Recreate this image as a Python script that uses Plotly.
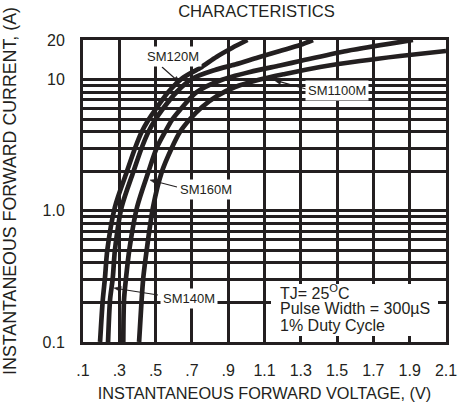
import math
import plotly.graph_objects as go

# ---------------- data ----------------
sm120m_current = [0.1, 0.209, 0.307, 0.502, 1.068, 1.974, 3.008, 3.982, 4.915, 5.859, 8.035, 10.21, 12.24, 14.93, 17.39, 20]
sm120m_voltage = [0.194, 0.209, 0.221, 0.234, 0.276, 0.341, 0.387, 0.423, 0.460, 0.497, 0.570, 0.646, 0.745, 0.837, 0.921, 1.006]

sm140m_current = [0.1, 0.209, 0.307, 0.502, 1.068, 1.974, 3.008, 3.982, 4.915, 5.859, 8.035, 10.21, 11.82, 13.02, 14.72, 16.50, 18.32, 20]
sm140m_voltage = [0.238, 0.249, 0.264, 0.276, 0.313, 0.377, 0.423, 0.460, 0.497, 0.535, 0.616, 0.706, 0.827, 0.938, 1.064, 1.185, 1.296, 1.367]

sm160m_current = [0.1, 0.209, 0.307, 0.502, 1.068, 1.974, 3.008, 3.982, 4.915, 5.859, 8.035, 9.829, 11.41, 12.79, 13.84, 16.50, 20]
sm160m_voltage = [0.322, 0.326, 0.337, 0.355, 0.398, 0.460, 0.506, 0.552, 0.590, 0.634, 0.728, 0.855, 1.020, 1.185, 1.296, 1.553, 1.918]

sm1100m_current = [0.1, 0.209, 0.307, 0.502, 1.068, 1.974, 3.008, 3.982, 5.004, 6.173, 7.490, 8.770, 9.915, 11.02, 12.46, 13.84, 15.11, 16.50]
sm1100m_voltage = [0.409, 0.423, 0.432, 0.451, 0.486, 0.534, 0.589, 0.634, 0.690, 0.756, 0.838, 0.938, 1.064, 1.213, 1.406, 1.626, 1.847, 2.1]

x_tick_values = [0.1, 0.3, 0.5, 0.7, 0.9, 1.1, 1.3, 1.5, 1.7, 1.9, 2.1]
x_tick_labels = [".1", ".3", ".5", ".7", ".9", "1.1", "1.3", "1.5", "1.7", "1.9", "2.1"]

y_tick_values = [0.1, 1, 10, 20]
y_tick_labels = ["0.1", "1.0", "10", "20"]
y_minor_grid = [0.2, 0.3, 0.4, 0.5, 0.6, 0.7, 0.8, 0.9, 2, 3, 4, 5, 6, 7, 8, 9]

series_names = ["SM120M", "SM140M", "SM160M", "SM1100M"]

# ---------------- figure ----------------
INK = "#231f20"
FONT = "Liberation Sans, Arial, Helvetica, sans-serif"

W, H = 460, 404
ML, MR, MT, MB = 83, 14, 40, 62
PW, PH = W - ML - MR, H - MT - MB


def px(xp):
    return (xp - ML) / PW


def py(yp):
    return (MT + PH - yp) / PH


fig = go.Figure()
for name, volts, amps in [
    (series_names[0], sm120m_voltage, sm120m_current),
    (series_names[1], sm140m_voltage, sm140m_current),
    (series_names[2], sm160m_voltage, sm160m_current),
    (series_names[3], sm1100m_voltage, sm1100m_current),
]:
    fig.add_trace(go.Scatter(
        x=volts, y=amps, mode="lines", name=name, showlegend=False,
        line=dict(color=INK, width=4.7, shape="spline", smoothing=0.8),
        hoverinfo="skip",
    ))

annotations = []

# white box behind the conditions text
shapes = [dict(type="rect", xref="paper", yref="paper",
               x0=px(271), x1=px(438), y0=py(336), y1=py(284),
               fillcolor="white", line=dict(width=0), layer="above")]

# series labels with white backgrounds
label_pos = {
    "SM120M": (173.3, 56.7),
    "SM1100M": (337.0, 90.7),
    "SM160M": (205.5, 189.0),
    "SM140M": (189.0, 298.0),
}
for name, (lx, ly) in label_pos.items():
    annotations.append(dict(
        text=name, x=px(lx), y=py(ly), xref="paper", yref="paper",
        showarrow=False, xanchor="center", yanchor="middle",
        bgcolor="white", borderpad=2,
        font=dict(family=FONT, size=13, color=INK),
    ))

# leader arrows (tail -> tip, in pixels), drawn as line + filled head
arrows = [
    ((162, 67), (180, 83)),
    ((306, 89), (274, 80)),
    ((177, 187), (150, 180)),
    ((158, 295), (114, 288)),
]
HEAD_LEN, HEAD_HALF = 7.0, 2.6
for (tx, ty), (hx, hy) in arrows:
    d = math.hypot(hx - tx, hy - ty)
    ux, uy = (hx - tx) / d, (hy - ty) / d
    bx, by = hx - ux * HEAD_LEN, hy - uy * HEAD_LEN
    nx, ny = -uy, ux
    shapes.append(dict(type="line", xref="paper", yref="paper",
                       x0=px(tx), y0=py(ty), x1=px(bx + ux), y1=py(by + uy),
                       line=dict(color=INK, width=1.1), layer="above"))
    path = "M {:.5f} {:.5f} L {:.5f} {:.5f} L {:.5f} {:.5f} Z".format(
        px(hx), py(hy),
        px(bx + nx * HEAD_HALF), py(by + ny * HEAD_HALF),
        px(bx - nx * HEAD_HALF), py(by - ny * HEAD_HALF))
    shapes.append(dict(type="path", xref="paper", yref="paper", path=path,
                       fillcolor=INK, line=dict(color=INK, width=0.5), layer="above"))

# conditions text
for txt, ly in [("TJ= 25<sup>O</sup>C", 291.5),
                ("Pulse Width = 300µS", 308.5),
                ("1% Duty Cycle", 325.0)]:
    annotations.append(dict(
        text=txt, x=px(278), y=py(ly), xref="paper", yref="paper",
        showarrow=False, xanchor="left", yanchor="middle",
        font=dict(family=FONT, size=16, color=INK),
    ))

grid_style = dict(showgrid=True, gridcolor=INK, gridwidth=2.7)

fig.update_layout(
    width=W, height=H,
    margin=dict(l=ML, r=MR, t=MT, b=MB, autoexpand=False),
    paper_bgcolor="white", plot_bgcolor="white",
    font=dict(family=FONT, size=16, color=INK),
    title=dict(text="CHARACTERISTICS", x=256.5 / W, xanchor="center",
               y=1 - 11 / H, yanchor="middle",
               font=dict(family=FONT, size=16.6, color=INK)),
    annotations=annotations, shapes=shapes,
    xaxis=dict(
        range=[0.1, 2.1], tickmode="array", tickvals=x_tick_values, ticktext=x_tick_labels,
        zeroline=False, showline=True, mirror=True, linecolor=INK, linewidth=3,
        ticks="", ticklabelstandoff=12, tickfont=dict(size=16),
        title=dict(text="INSTANTANEOUS FORWARD VOLTAGE, (V)", standoff=10,
                   font=dict(family=FONT, size=16.3, color=INK)),
        fixedrange=True, **grid_style,
    ),
    yaxis=dict(
        type="log", range=[-1, 1.30103], tickmode="array",
        tickvals=y_tick_values, ticktext=y_tick_labels,
        minor=dict(tickmode="array", tickvals=y_minor_grid, ticks="", **grid_style),
        zeroline=False, showline=True, mirror=True, linecolor=INK, linewidth=3,
        ticks="", ticklabelstandoff=12, tickfont=dict(size=16),
        title=dict(text="INSTANTANEOUS FORWARD CURRENT, (A)", standoff=26,
                   font=dict(family=FONT, size=17.8, color=INK)),
        fixedrange=True, **grid_style,
    ),
)

fig.write_html("out.html", config={"displayModeBar": False})
